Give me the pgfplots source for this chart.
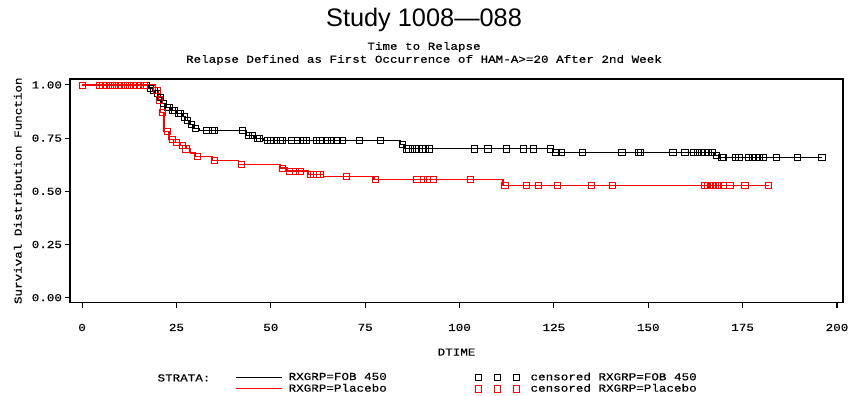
\documentclass[border=0pt]{standalone}
\usepackage{fontspec}
\usepackage{pgfplots}
\pgfplotsset{compat=1.18}
\setmainfont{Liberation Sans}
\newfontfamily\monof[FakeStretch=1.18,FakeBold=0.4]{Liberation Mono}
\newcommand{\mf}{\monof\fontsize{8}{9}\selectfont}
\pgfplotsset{
  lineleg/.style={legend image code/.code={\draw[##1] (0pt,0pt) -- (34pt,0pt);}},
  markleg/.style={legend image code/.code={\draw[##1] plot coordinates {(0pt,0pt)(14pt,0pt)(28pt,0pt)};}},
}

\pgfplotstableread{
x y
0 1
17.5 0.985
18.5 0.975
19.5 0.96
20.3 0.94
21 0.915
22 0.895
23.5 0.88
25 0.865
26.5 0.85
27.5 0.835
28.5 0.815
29.5 0.795
31 0.785
43.5 0.765
45.5 0.75
48 0.74
84.3 0.72
85.3 0.70
124.5 0.685
167.5 0.67
169 0.66
196 0.66
}\fobline

\pgfplotstableread{
x y
6.5 1
7.5 1
8.5 1
9.5 1
10.5 1
11.5 1
17 1
18 0.985
19 0.975
20 0.96
20.7 0.94
21.5 0.915
22.5 0.895
23 0.895
24 0.88
24.5 0.88
25.5 0.865
26 0.865
27 0.85
28 0.835
29 0.815
30 0.795
33 0.785
34.5 0.785
35 0.785
42.5 0.785
44 0.765
45 0.765
46.5 0.75
47 0.75
49 0.74
50 0.74
51.5 0.74
52.5 0.74
53 0.74
55.5 0.74
57 0.74
58.5 0.74
59.5 0.74
62 0.74
63 0.74
65 0.74
66 0.74
67.5 0.74
69 0.74
73.5 0.74
79 0.74
84.8 0.72
85.8 0.70
86.5 0.70
87.5 0.70
88.5 0.70
90 0.70
91 0.70
92 0.70
104 0.70
107.5 0.70
112.5 0.70
117 0.70
119.5 0.70
124 0.70
125.5 0.685
127 0.685
132.5 0.685
143 0.685
147.3 0.685
148 0.685
156.5 0.685
159.7 0.685
162 0.685
163 0.685
164 0.685
165 0.685
166 0.685
167 0.685
168 0.67
169.5 0.66
170 0.66
173 0.66
174 0.66
176.5 0.66
177.5 0.66
178.5 0.66
179.5 0.66
180.5 0.66
184 0.66
189.5 0.66
196 0.66
}\fobcens

\pgfplotstableread{
x y
0 1
19.5 0.975
20.3 0.93
20.8 0.87
21.7 0.78
23 0.745
24.2 0.73
26 0.715
27.5 0.70
28.7 0.68
30 0.663
34.5 0.645
41.5 0.625
52.5 0.61
54.5 0.595
60 0.58
64 0.57
77.3 0.555
111.5 0.527
182 0.527
}\plaline

\pgfplotstableread{
x y
0 1
4.5 1
5.5 1
6.5 1
7.5 1
8.5 1
9.5 1
10.5 1
11.5 1
12.5 1
13.5 1
14.5 1
15.5 1
16.5 1
19.8 0.975
20.5 0.93
21.2 0.87
22.5 0.78
24 0.745
25 0.73
26.5 0.715
27.5 0.70
30.5 0.663
35 0.645
42.3 0.625
53 0.61
55 0.595
56.4 0.595
57.7 0.595
60.4 0.58
61.2 0.58
62.2 0.58
63 0.58
70 0.57
77.6 0.555
88.7 0.555
90.3 0.555
91.4 0.555
93 0.555
102.8 0.555
112 0.527
117.6 0.527
120.8 0.527
125.8 0.527
135 0.527
140.4 0.527
165 0.527
165.7 0.527
166.4 0.527
167.1 0.527
167.8 0.527
168.5 0.527
170 0.527
171.6 0.527
175.6 0.527
181.7 0.527
}\placens

\begin{document}
\begin{tikzpicture}
\begin{axis}[name=ax, scale only axis, width=579.75pt, height=167.6pt,
  xmin=-3.2, xmax=201.6, ymin=-0.0226, ymax=1.028,
  xtick={0,25,...,200}, ytick={0,0.25,0.5,0.75,1},
  yticklabels={0.00,0.25,0.50,0.75,1.00},
  xtick pos=bottom, ytick pos=left, tick align=outside, major tick length=4pt,
  ticklabel style={font=\mf},
  xticklabel style={yshift=-8.5pt},
  yticklabel style={xshift=1.5pt},
  /pgf/number format/assume math mode=true,
  axis line style={line width=0.8pt}, tick style={line width=0.8pt, black},
  xlabel={DTIME}, ylabel={Survival Distribution Function},
  label style={font=\mf},
  xlabel style={at={(axis description cs:0.5,-0.222)}, anchor=center},
  ylabel style={at={(axis description cs:-0.0675,0.5)}, anchor=center},
  legend columns=2, legend cell align=left,
  legend style={draw=none, fill=none, at={(axis description cs:0.209,-0.297)},
    anchor=north west, font=\mf, row sep=0pt,
    nodes={inner sep=0.6pt},
    /tikz/column 1/.style={column sep=4pt},
    /tikz/column 2/.style={column sep=66pt},
    /tikz/column 3/.style={column sep=8pt}},
  ]
\addplot[const plot, black, line width=0.6pt, lineleg] table {\fobline};
\addlegendentry{RXGRP=FOB 450}
\addplot[only marks, mark=square, black, mark size=2.3pt, mark options={line width=0.5pt, rounded corners=0.8pt}, markleg] table {\fobcens};
\addlegendentry{censored RXGRP=FOB 450}
\addplot[const plot, red, line width=1pt, lineleg] table {\plaline};
\addlegendentry{RXGRP=Placebo}
\addplot[only marks, mark=square, red, mark size=2.3pt, mark options={line width=0.5pt, rounded corners=0.8pt}, markleg] table {\placens};
\addlegendentry{censored RXGRP=Placebo}
\end{axis}
\node[font=\fontsize{19}{22}\selectfont] at ([xshift=265.5pt,yshift=44.25pt]ax.north west) {Study 1008—088};
\node[font=\mf] at ([xshift=265.5pt,yshift=24pt]ax.north west) {Time to Relapse};
\node[font=\mf] at ([xshift=265.5pt,yshift=14.25pt]ax.north west) {Relapse Defined as First Occurrence of HAM-A>=20 After 2nd Week};
\node[font=\mf] at ([xshift=85.5pt,yshift=-56.6pt]ax.south west) {STRATA:};
\pgfresetboundingbox
\path ([xshift=-52.5pt,yshift=-70.1pt]ax.south west) rectangle ([xshift=3.75pt,yshift=59.25pt]ax.north east);
\end{tikzpicture}
\end{document}
